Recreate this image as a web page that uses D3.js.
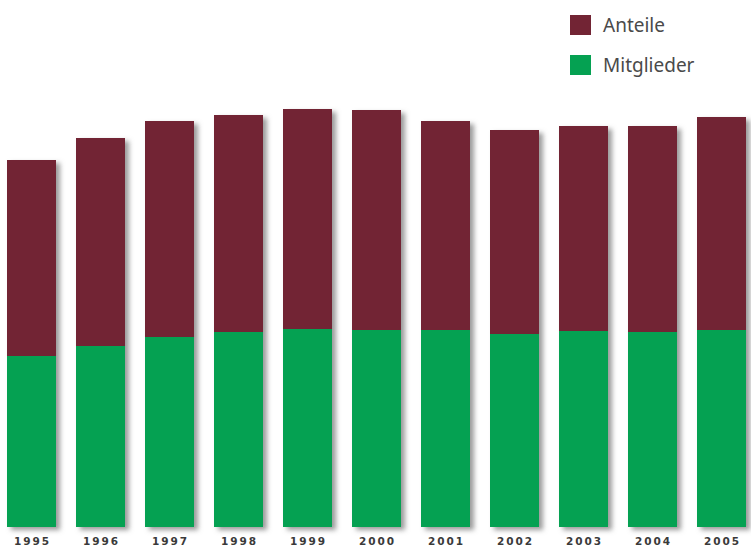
<!DOCTYPE html>
<html>
<head>
<meta charset="utf-8">
<script src="https://cdn.jsdelivr.net/npm/d3@7"></script>
<style>
  html, body { margin: 0; padding: 0; background: #fff; }
  svg { display: block; }
</style>
</head>
<body>
<svg id="chart" width="751" height="557"></svg>
<script>
// Jahre und Werte (Mitglieder unten, Anteile oben gestapelt)
const years = ["1995","1996","1997","1998","1999","2000","2001","2002","2003","2004","2005"];
const mitglieder = [171, 181, 190, 195, 198, 197, 197, 193, 196, 195, 197];
const anteile    = [196, 208, 216, 217, 220, 220, 209, 204, 205, 206, 213];
const seriesKeys = ["Mitglieder", "Anteile"];
const legendKeys = ["Anteile", "Mitglieder"];
const colors = { Anteile: "#722434", Mitglieder: "#05a152" };

const rows = years.map((y, i) => ({ year: y, Mitglieder: mitglieder[i], Anteile: anteile[i] }));

const svg = d3.select("#chart");
const baseY = 527;

const x = d3.scaleBand()
  .domain(years)
  .range([7, 746])
  .paddingInner(20 / 69)
  .paddingOuter(0);

const y = d3.scaleLinear()
  .domain([0, 420])
  .range([baseY, baseY - 420]);

// weicher Schatten rechts unten
const defs = svg.append("defs");
const f = defs.append("filter").attr("id", "shadow")
  .attr("x", "-20%").attr("y", "-20%").attr("width", "150%").attr("height", "150%");
f.append("feDropShadow")
  .attr("dx", 4).attr("dy", 3)
  .attr("stdDeviation", 2.6)
  .attr("flood-color", "#707070")
  .attr("flood-opacity", 0.7);

const stacked = d3.stack().keys(seriesKeys)(rows);

// Schatten einmal pro Gesamtsäule
svg.append("g")
  .selectAll("rect")
  .data(rows)
  .join("rect")
  .attr("x", d => x(d.year))
  .attr("width", x.bandwidth())
  .attr("y", d => y(d.Mitglieder + d.Anteile))
  .attr("height", d => y(0) - y(d.Mitglieder + d.Anteile))
  .attr("fill", "#fff")
  .attr("filter", "url(#shadow)");

svg.append("g")
  .selectAll("g")
  .data(stacked)
  .join("g")
  .attr("fill", s => colors[s.key])
  .selectAll("rect")
  .data(s => s)
  .join("rect")
  .attr("x", d => x(d.data.year))
  .attr("width", x.bandwidth())
  .attr("y", d => y(d[1]))
  .attr("height", d => y(d[0]) - y(d[1]));

// Jahresbeschriftung
const xAxis = d3.axisBottom(x).tickSize(0).tickPadding(0);
const ax = svg.append("g")
  .attr("transform", `translate(1, ${baseY + 11})`)
  .call(xAxis);
ax.select(".domain").remove();
ax.selectAll("text")
  .attr("dy", "0.71em")
  .attr("fill", "#3a3a3a")
  .style("font-family", "'DejaVu Sans', sans-serif")
  .style("font-size", "10.5px")
  .style("font-weight", "bold")
  .style("letter-spacing", "2px");

// Legende
const legend = svg.append("g").attr("transform", "translate(570, 15)");
const li = legend.selectAll("g")
  .data(legendKeys)
  .join("g")
  .attr("transform", (d, i) => `translate(0, ${i * 40})`);
li.append("rect")
  .attr("width", 21).attr("height", 20)
  .attr("fill", d => colors[d]);
li.append("text")
  .attr("x", 33).attr("y", 17)
  .attr("fill", "#4a4a4a")
  .style("font-family", "'Noto Sans', sans-serif")
  .style("font-size", "19px")
  .text(d => d);
</script>
</body>
</html>
